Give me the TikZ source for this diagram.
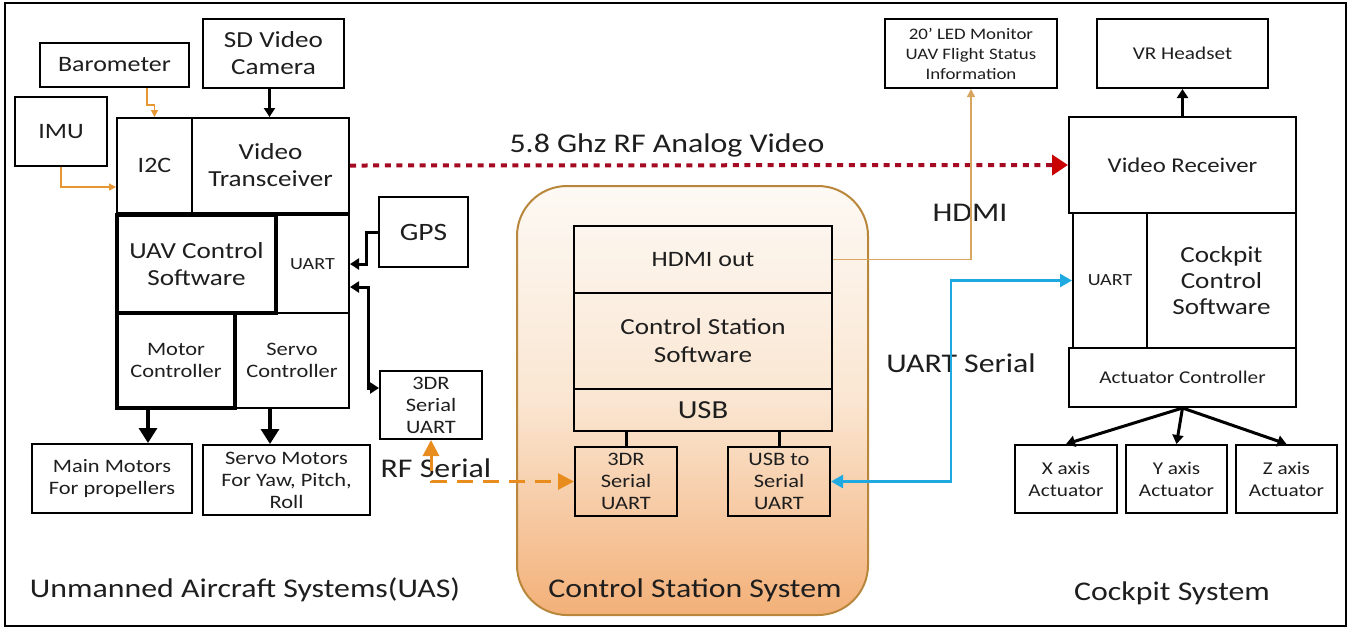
\documentclass[tikz,border=0pt]{standalone}
\usepackage{fontspec}
\setmainfont{Carlito}[FakeStretch=1.18]
\usepackage{tikz}
\usetikzlibrary{arrows.meta}

\definecolor{txtgray}{RGB}{30,30,30}
\definecolor{dotred}{RGB}{165,10,35}
\definecolor{tipred}{RGB}{200,0,0}
\definecolor{wireorange}{RGB}{230,150,50}
\definecolor{hdmitan}{RGB}{215,165,95}
\definecolor{rforange}{RGB}{232,140,30}
\definecolor{uartblue}{RGB}{30,170,225}
\definecolor{csedge}{RGB}{185,135,60}
\definecolor{cstop}{RGB}{253,249,244}
\definecolor{csmid}{RGB}{250,230,210}
\definecolor{csbot}{RGB}{243,176,120}

\newcommand{\fsz}[2]{\fontsize{#1}{#2}\selectfont}

\begin{document}
\begin{tikzpicture}[
	x=0.5pt, y=-0.5pt,
	every node/.style={text=txtgray},
	box/.style={draw=black, line width=1pt, align=center, inner sep=0pt},
	heavybox/.style={box, line width=2pt},
	lbl/.style={font=\fsz{13.5}{16}},
	blkarrow/.style={line width=1.5pt, -{Triangle[width=5.5pt,length=4.5pt]}},
	blkboth/.style={line width=1.5pt, {Triangle[width=5.5pt,length=4.5pt]}-{Triangle[width=5.5pt,length=4.5pt]}},
	bigarrow/.style={line width=1.6pt, -{Triangle[width=9pt,length=7.5pt]}},
	thinwire/.style={wireorange, line width=0.6pt, -{Triangle[width=3.5pt,length=3.5pt]}},
	hdmiwire/.style={hdmitan, line width=0.7pt, -{Triangle[width=4pt,length=4pt]}},
	reddot/.style={dotred, line width=2pt, dash pattern=on 3pt off 2.8pt, -{Triangle[width=10pt,length=8pt,color=tipred]}},
	uartwire/.style={uartblue, line width=1.2pt, {Triangle[width=6.5pt,length=6pt]}-{Triangle[width=6.5pt,length=6pt]}},
	rfwire/.style={rforange, line width=1.5pt, dash pattern=on 8pt off 5pt, {Triangle[width=8pt,length=8pt]}-{Triangle[width=8pt,length=8pt]}}
]
\useasboundingbox (0,0) rectangle (1351,629);
\draw[line width=1pt] (5,3) rectangle (1346,626);

% Control station background
\node[draw=csedge, line width=1pt, rounded corners=25pt, top color=cstop, bottom color=csbot, middle color=csmid,
	minimum width=175.5pt, minimum height=214.5pt] (csys) at (692.5,400.5) {};

% UAS
\node[box, minimum width=74.5pt, minimum height=22pt, font=\fsz{11}{13}] (baro) at (114.5,65) {Barometer};
\node[box, minimum width=70.5pt, minimum height=34.5pt, font=\fsz{11.5}{13.5}] (cam) at (273.5,53.5) {SD Video\\Camera};
\node[box, minimum width=46pt, minimum height=34.5pt, font=\fsz{11}{13}] (imu) at (61,131.5) {IMU};
\node[box, minimum width=37.5pt, minimum height=47.5pt, font=\fsz{11}{13}] (i2c) at (154.5,165.5) {I2C};
\node[box, minimum width=78.5pt, minimum height=47.5pt, font=\fsz{11.5}{13.5}] (vtx) at (270.5,165.5) {Video\\Transceiver};
\node[heavybox, minimum width=79.5pt, minimum height=49pt, font=\fsz{11.5}{13.5}] (uavsw) at (196.5,264) {UAV Control\\Software};
\node[box, minimum width=36.5pt, minimum height=49pt, font=\fsz{8.5}{10}] (uart) at (312.5,264) {UART};
\node[box, minimum width=44.5pt, minimum height=35pt, font=\fsz{12.5}{14}] (gps) at (423.5,232) {GPS};
\node[heavybox, minimum width=59pt, minimum height=47.5pt, font=\fsz{9.5}{11}] (motc) at (176,360.5) {Motor\\Controller};
\node[box, line width=1.4pt, minimum width=57pt, minimum height=47.5pt, font=\fsz{9.5}{11}] (srvc) at (292,360.5) {Servo\\Controller};
\node[box, minimum width=51pt, minimum height=34pt, font=\fsz{9.5}{11}] (sr3dr) at (431,405) {3DR\\Serial\\UART};
\node[box, minimum width=80pt, minimum height=34.5pt, font=\fsz{9.5}{11}] (mmot) at (112,478.5) {Main Motors\\For propellers};
\node[box, minimum width=83.5pt, minimum height=35pt, font=\fsz{9.5}{11}] (smot) at (286.5,480) {Servo Motors\\For Yaw, Pitch,\\Roll};

% Control station
\node[box, minimum width=129pt, minimum height=33.5pt, font=\fsz{11}{13}] (hdmi) at (703,259.5) {HDMI out};
\node[box, minimum width=129pt, minimum height=48pt, font=\fsz{11.5}{14}] (cssw) at (703,341) {Control Station\\Software};
\node[box, minimum width=129pt, minimum height=21pt, font=\fsz{13}{15}] (usb) at (703,410) {USB};
\node[box, minimum width=51pt, minimum height=34.5pt, font=\fsz{9.5}{11}] (cs3dr) at (626,481.5) {3DR\\Serial\\UART};
\node[box, minimum width=51pt, minimum height=34.5pt, font=\fsz{9.5}{11}] (usbser) at (779,481.5) {USB to\\Serial\\UART};

% Cockpit
\node[box, minimum width=86pt, minimum height=34.5pt, font=\fsz{8}{10}] (led) at (971,53.5) {20’ LED Monitor\\UAV Flight Status\\Information};
\node[box, minimum width=85.5pt, minimum height=34.5pt, font=\fsz{9}{11}] (vr) at (1182.5,53.5) {VR Headset};
\node[box, minimum width=113.5pt, minimum height=48pt, font=\fsz{10.5}{12}] (vrx) at (1182.5,165) {Video Receiver};
\node[box, minimum width=37pt, minimum height=67.5pt, font=\fsz{8.5}{10}] (cuart) at (1110,280.5) {UART};
\node[box, minimum width=74.5pt, minimum height=67.5pt, font=\fsz{11.5}{13}] (ccsw) at (1221.5,280.5) {Cockpit\\Control\\Software};
\node[box, minimum width=113.5pt, minimum height=29.5pt, font=\fsz{9}{11}] (act) at (1182.5,377.5) {Actuator Controller};
\node[box, minimum width=51pt, minimum height=34pt, font=\fsz{9}{11}] (xact) at (1066,479) {X axis\\Actuator};
\node[box, minimum width=50.5pt, minimum height=34pt, font=\fsz{9}{11}] (yact) at (1176.5,479) {Y axis\\Actuator};
\node[box, minimum width=50.5pt, minimum height=34pt, font=\fsz{9}{11}] (zact) at (1286.5,479) {Z axis\\Actuator};

% Labels
\node[lbl] (vidlbl) at (667,145) {5.8 Ghz RF Analog Video};
\node[lbl] (hdmilbl) at (970,213) {HDMI};
\node[lbl] (uartlbl) at (961,363) {UART Serial};
\node[lbl] (rflbl) at (436,468) {RF Serial};
\node[lbl] (uaslbl) at (245,590) {Unmanned Aircraft Systems(UAS)};
\node[lbl] (cslbl) at (695,590) {Control Station System};
\node[lbl] (cplbl) at (1172,593) {Cockpit System};

% Connectors
\draw[blkarrow] ([xshift=-2pt]cam.south) -- ([xshift=-2pt]cam.south |- vtx.north);
\draw[thinwire] ([xshift=16.25pt]baro.south) -- ++(0,17) -| (i2c.north);
\draw[thinwire] (imu.south) |- ([yshift=-10.75pt]i2c.west);
\draw[blkarrow] (gps.west) -- ++(-12,0) |- (uart.east);
\draw[blkboth] ([yshift=-11.5pt]uart.east) -- ++(18,0) |- ([yshift=8.5pt]sr3dr.west);
\draw[bigarrow] ([xshift=-14pt]motc.south) -- ([xshift=-14pt]motc.south |- mmot.north);
\draw[bigarrow] ([xshift=-11pt]srvc.south) -- ([xshift=-11pt]srvc.south |- smot.north);

\draw[reddot] (vtx.east) -- (vrx.west);
\draw[hdmiwire] (hdmi.east) -| (led.south);
\draw[uartwire] (usbser.east) -- ++(120,0) |- (cuart.west);
\draw[rfwire] (sr3dr.south) |- (cs3dr.west);
\draw[line width=1.5pt] (cs3dr.north |- usb.south) -- (cs3dr.north);
\draw[line width=1.5pt] (usbser.north |- usb.south) -- (usbser.north);

\draw[blkarrow] (vrx.north) -- (vr.south);
\foreach \ax in {xact,yact,zact}
	\draw[blkarrow] (act.south) -- (\ax.north);
\end{tikzpicture}
\end{document}
